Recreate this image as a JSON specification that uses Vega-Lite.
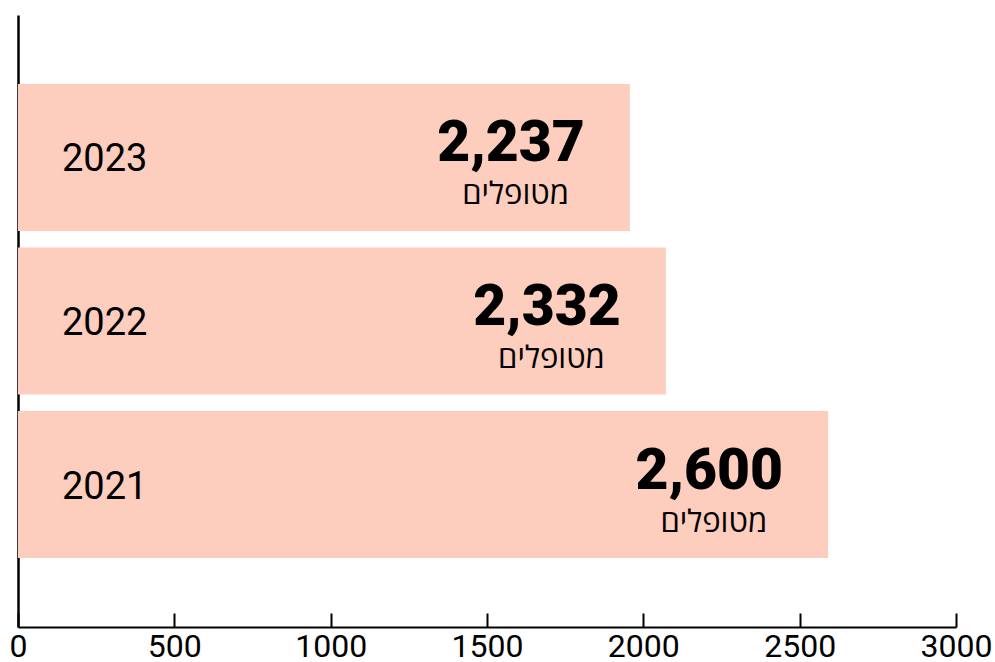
{
  "$schema": "https://vega.github.io/schema/vega-lite/v6.json",
  "width": 938,
  "height": 612,
  "autosize": {"type": "none"},
  "padding": {"left": 18, "top": 15, "right": 39, "bottom": 35},
  "background": "white",
  "config": {"view": {"stroke": null}},
  "data": {
    "values": [
      {"year": "2023", "value": 1957, "label": "2,237", "unit": "מטופלים"},
      {"year": "2022", "value": 2072, "label": "2,332", "unit": "מטופלים"},
      {"year": "2021", "value": 2591, "label": "2,600", "unit": "מטופלים"}
    ]
  },
  "encoding": {
    "y": {
      "field": "year",
      "type": "nominal",
      "sort": "descending",
      "scale": {"paddingInner": 0.101, "paddingOuter": 0.422},
      "axis": {
        "title": null,
        "labels": false,
        "ticks": false,
        "domain": true,
        "domainColor": "black",
        "domainWidth": 2.5
      }
    }
  },
  "layer": [
    {
      "mark": {"type": "bar", "color": "#fdcdbe"},
      "encoding": {
        "x": {
          "field": "value",
          "type": "quantitative",
          "scale": {"domain": [0, 3000], "nice": false},
          "axis": {
            "title": null,
            "values": [0, 500, 1000, 1500, 2000, 2500, 3000],
            "format": "d",
            "grid": false,
            "domainColor": "black",
            "domainWidth": 2,
            "tickColor": "black",
            "tickWidth": 2,
            "tickSize": -14,
            "labelPadding": 18,
            "labelFont": "Roboto",
            "labelFontSize": 32,
            "labelColor": "black",
            "labelFlush": false,
            "labelBaseline": "top"
          }
        }
      }
    },
    {
      "mark": {"type": "text", "align": "left", "baseline": "alphabetic", "dx": 44, "dy": 14, "font": "Roboto", "fontSize": 38, "color": "black"},
      "encoding": {
        "x": {"datum": 0, "type": "quantitative"},
        "text": {"field": "year"}
      }
    },
    {
      "mark": {"type": "text", "align": "right", "baseline": "alphabetic", "dx": -45, "dy": 4, "font": "Roboto", "fontWeight": 900, "fontSize": 57, "color": "black"},
      "encoding": {
        "x": {"field": "value", "type": "quantitative"},
        "text": {"field": "label"}
      }
    },
    {
      "mark": {"type": "text", "align": "right", "baseline": "alphabetic", "dx": -61, "dy": 47, "font": "Open Sans", "fontSize": 31, "color": "black"},
      "encoding": {
        "x": {"field": "value", "type": "quantitative"},
        "text": {"field": "unit"}
      }
    }
  ]
}
